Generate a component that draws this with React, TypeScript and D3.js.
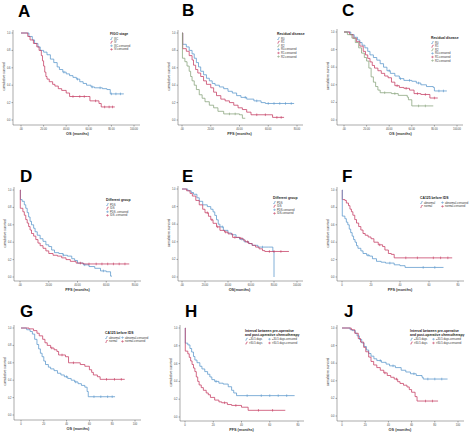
import React from 'react';
import * as d3 from 'd3';

type Pt = [number, number];

// ---- Panel A (OS by FIGO stage)
const aIIIC: Pt[] = [[0,1],[7,0.96],[10,0.92],[12,0.88],[15,0.84],[17,0.8],[20,0.78],[23,0.75],[26,0.7],[29,0.66],[32,0.61],[34,0.58],[37,0.55],[40,0.53],[43,0.51],[46,0.49],[49,0.47],[52,0.44],[55,0.42],[58,0.4],[62,0.38],[65,0.37],[72,0.36],[76,0.35],[79,0.3],[91,0.3]];
const aIV: Pt[] = [[0,1],[6,0.96],[8,0.92],[11,0.88],[14,0.84],[16,0.8],[18,0.74],[19,0.68],[20,0.62],[21,0.55],[22,0.5],[23,0.47],[25,0.44],[28,0.41],[30,0.39],[33,0.36],[36,0.34],[40,0.31],[43,0.27],[59,0.27],[61,0.22],[69,0.19],[71,0.15],[83,0.15]];
const aIIICc = [38, 50, 63, 70, 80, 84, 88];
const aIVc = [46, 52, 56, 66, 74, 78, 81];

// ---- Panel B (PFS by residual disease)
const bR0: Pt[] = [[0,1],[0.5,0.87],[3,0.84],[5,0.8],[7,0.76],[8.5,0.71],[10,0.66],[11.5,0.61],[13,0.56],[15,0.52],[17,0.48],[19,0.45],[21,0.42],[23,0.4],[26,0.38],[29,0.36],[32,0.33],[35,0.31],[38,0.28],[41,0.26],[45,0.24],[50,0.22],[55,0.2],[58,0.19],[78,0.19]];
const bR1: Pt[] = [[0,1],[0.5,0.82],[3,0.79],[5,0.74],[7,0.69],[8,0.63],[9.5,0.58],[11,0.54],[13,0.5],[15,0.45],[17,0.41],[20,0.37],[22,0.32],[24,0.28],[27,0.24],[30,0.22],[33,0.2],[36,0.17],[39,0.14],[42,0.12],[45,0.09],[48,0.06],[63,0.03],[71,0.03]];
const bR2: Pt[] = [[0,1],[0.3,0.71],[2,0.67],[3.5,0.62],[5,0.56],[6,0.5],[7,0.45],[8.5,0.4],[10,0.35],[12,0.29],[14,0.25],[16,0.21],[19,0.17],[22,0.14],[25,0.1],[29,0.07],[40,0.06],[42,0.02],[44,0.02]];
const bR0c = [44, 52, 60, 64, 68, 72, 76];
const bR1c = [52, 58, 66, 69];
const bR2c = [33, 37];

// ---- Panel C (OS by residual disease)
const cR0: Pt[] = [[0,1],[6,0.97],[9,0.94],[12,0.91],[14,0.88],[16,0.85],[18.5,0.82],[21,0.78],[23,0.74],[26,0.71],[29,0.68],[32,0.64],[35,0.6],[38,0.56],[41,0.53],[45,0.5],[49,0.47],[53,0.45],[60,0.44],[64,0.42],[68,0.4],[73,0.38],[79,0.37],[80,0.33],[91,0.33]];
const cR1: Pt[] = [[0,1],[5,0.97],[8,0.93],[11,0.89],[14,0.84],[17,0.78],[19,0.74],[21,0.7],[23,0.66],[25,0.62],[27,0.59],[30,0.56],[33,0.53],[36,0.5],[39,0.48],[42,0.43],[45,0.39],[49,0.37],[53,0.36],[58,0.34],[62,0.3],[68,0.29],[76,0.25],[83,0.25]];
const cR2: Pt[] = [[0,1],[3,0.97],[7,0.93],[10,0.88],[13,0.82],[15.5,0.76],[18,0.71],[20,0.67],[22,0.59],[24,0.49],[26,0.43],[28,0.38],[30,0.34],[32,0.31],[42,0.3],[48,0.28],[56,0.26],[57,0.23],[60,0.16],[79,0.16]];
const cR0c = [40, 50, 58, 66, 84, 88];
const cR1c = [47, 55, 65, 72, 80];
const cR2c = [36, 45, 66, 72];

// ---- Panel D (PFS by group)
const dPDS: Pt[] = [[0,1],[0.3,0.89],[1.5,0.87],[3,0.83],[4,0.79],[5,0.74],[6,0.69],[7,0.64],[8,0.6],[9.5,0.56],[10.5,0.52],[12,0.48],[14,0.44],[16,0.41],[18,0.37],[20,0.35],[22,0.31],[24,0.28],[27,0.27],[30,0.25],[33,0.24],[36,0.21],[38,0.19],[40,0.16],[44,0.14],[48,0.12],[52,0.1],[56,0.07],[60,0.06],[63,0.01],[64,0.01]];
const dIDS: Pt[] = [[0,1],[0.2,0.79],[2,0.75],[3,0.71],[4,0.66],[5,0.62],[6,0.58],[7,0.54],[8,0.5],[9.5,0.47],[11,0.43],[12.5,0.39],[14,0.36],[16,0.33],[18,0.3],[20,0.27],[23,0.25],[26,0.24],[29,0.22],[32,0.2],[35,0.18],[39,0.16],[44,0.15],[76,0.15]];
const dPDSc = [30, 45, 58];
const dIDSc = [42, 48, 53, 57, 61, 65, 69, 73];

// ---- Panel E (OS by group)
const ePDS: Pt[] = [[0,1],[5,0.98],[8,0.96],[10,0.94],[13,0.9],[15,0.86],[18,0.82],[22,0.8],[25,0.77],[27,0.74],[28.5,0.7],[30,0.65],[31.5,0.6],[33,0.57],[36,0.53],[40,0.5],[43,0.48],[47,0.45],[50,0.43],[54,0.4],[58,0.38],[61,0.36],[66,0.34],[75,0.34],[79,0.29],[80,0]];
const eIDS: Pt[] = [[0,1],[4,0.98],[7,0.95],[9,0.92],[12,0.87],[15,0.82],[18,0.77],[20,0.73],[23,0.69],[25,0.65],[27,0.61],[30,0.57],[33,0.53],[37,0.51],[40,0.49],[44,0.45],[50,0.44],[53,0.42],[55,0.4],[58,0.38],[61,0.36],[64,0.34],[67,0.32],[70,0.3],[72,0.29],[93,0.29]];
const ePDSc = [35, 52, 70];
const eIDSc = [22, 26, 31, 38, 46, 51, 57, 76, 80, 86];

// ---- Panel F (PFS by CA125)
const fNormal: Pt[] = [[0,1],[0.2,0.89],[2,0.88],[3,0.85],[4.5,0.82],[5.5,0.78],[6.5,0.75],[7.5,0.71],[8.8,0.66],[10,0.62],[11.5,0.58],[13,0.54],[14.5,0.5],[16,0.48],[18,0.46],[20,0.44],[22,0.4],[25,0.37],[28,0.35],[29.6,0.31],[32,0.27],[34,0.26],[36,0.22],[76,0.22]];
const fAbnormal: Pt[] = [[0,1],[0.2,0.7],[2,0.67],[3,0.63],[4,0.6],[5,0.55],[6,0.51],[7,0.47],[8,0.43],[9,0.4],[10,0.36],[11,0.33],[13,0.3],[14.5,0.27],[17,0.25],[19,0.24],[21,0.21],[23.8,0.18],[27,0.17],[30,0.16],[36,0.14],[40,0.13],[43.5,0.11],[70,0.11]];
const fNormalc = [26, 44, 52, 63, 68, 73];
const fAbnormalc = [18, 33, 56, 64];

// ---- Panel G (OS by CA125)
const gAbnormal: Pt[] = [[0,1],[5,0.98],[8,0.96],[10,0.93],[12,0.87],[14,0.81],[15.5,0.76],[17,0.71],[18.5,0.67],[20,0.62],[21.5,0.58],[24,0.55],[26,0.53],[29,0.51],[32,0.48],[35,0.46],[38,0.44],[41,0.42],[44,0.4],[47,0.38],[50,0.36],[53,0.34],[56,0.32],[58,0.27],[59,0.21],[82.5,0.21]];
const gNormal: Pt[] = [[0,1],[7,0.99],[11,0.97],[14,0.94],[16,0.91],[19,0.87],[21,0.83],[23,0.8],[26,0.77],[29,0.75],[31.5,0.73],[33,0.69],[39,0.67],[41.7,0.6],[52,0.58],[56,0.56],[60,0.52],[62,0.49],[63.5,0.46],[67,0.44],[69.4,0.41],[91,0.41]];
const gAbnormalc = [40, 48, 64, 70, 76, 80];
const gNormalc = [27, 36, 46, 75, 82, 88];

// ---- Panel H (PFS by interval)
const hShort: Pt[] = [[0,1],[0.2,0.83],[2,0.81],[3.5,0.77],[4.7,0.73],[6,0.68],[7,0.64],[8.5,0.61],[10.5,0.57],[12,0.54],[14,0.51],[16,0.48],[17.6,0.45],[19,0.42],[21,0.4],[24,0.38],[27,0.37],[30.6,0.34],[33,0.3],[34.5,0.27],[36.5,0.24],[77.6,0.24]];
const hLong: Pt[] = [[0,1],[0.2,0.74],[2,0.71],[3,0.67],[4,0.63],[5,0.59],[6,0.55],[7,0.51],[8,0.45],[9,0.4],[10,0.36],[11.5,0.33],[13,0.3],[15,0.27],[16.5,0.25],[18,0.22],[21,0.19],[24,0.17],[26,0.16],[30,0.14],[33,0.13],[40,0.11],[44.7,0.075],[71,0.075]];
const hShortc = [22, 44, 54, 60, 66, 72];
const hLongc = [28, 36, 52, 62];

// ---- Panel J (OS by interval)
const jShort: Pt[] = [[0,1],[7,0.98],[9,0.97],[11.5,0.94],[13,0.91],[15,0.87],[17,0.83],[19,0.79],[21,0.75],[23,0.71],[25,0.68],[27.5,0.65],[30,0.63],[34,0.61],[38,0.59],[41,0.57],[46,0.55],[51,0.52],[55,0.5],[59,0.48],[64,0.46],[69,0.44],[70,0.42],[91,0.42]];
const jLong: Pt[] = [[0,1],[8,0.98],[11,0.94],[14,0.88],[16,0.84],[18.7,0.78],[20.5,0.73],[23,0.67],[25,0.62],[27.3,0.58],[30,0.55],[33,0.52],[36,0.49],[39,0.46],[42,0.44],[45,0.42],[48,0.39],[50,0.37],[53,0.35],[56,0.33],[58,0.3],[60,0.27],[63,0.22],[64.7,0.17],[82.8,0.17]];
const jShortc = [33, 44, 62, 74, 80, 86];
const jLongc = [37, 47, 72, 78];

const yTicks = [0, 0.2, 0.4, 0.6, 0.8, 1.0];
const xTicks100 = [0, 20, 40, 60, 80, 100];
const xTicks80 = [0, 20, 40, 60, 80];

const BLUE = '#5896cb';
const RED = '#c43a60';
const GREEN = '#86a27a';

type Series = { data: Pt[]; cens: number[]; color: string };
type Panel = {
  letter: string; lx: number; ly: number;
  axisX: number; yTop: number; yBot: number; axisY: number;
  x0: number; x1: number; xMax: number; xTicks: number[]; decimals: boolean;
  xLabel: string; xLabelY: number;
  series: Series[];
  legTitle: string[]; legX: number; legY: number;
  legItems: string[]; legCols: number; legColW: number; legColors: string[];
};

const panels: Panel[] = [
  { letter: 'A', lx: 18, ly: 17, axisX: 13, yTop: 33, yBot: 120, axisY: 125, x0: 21, x1: 134, xMax: 100, xTicks: xTicks100, decimals: true, xLabel: 'OS  (months)', xLabelY: 135,
    series: [{ data: aIIIC, cens: aIIICc, color: BLUE }, { data: aIV, cens: aIVc, color: RED }],
    legTitle: ['FIGO stage'], legX: 110, legY: 35, legItems: ['IIIC', 'IV', 'IIIC-censored', 'IV-censored'], legCols: 1, legColW: 0, legColors: [BLUE, RED, BLUE, RED] },
  { letter: 'B', lx: 182, ly: 16, axisX: 178, yTop: 33, yBot: 120, axisY: 125, x0: 182, x1: 297, xMax: 80, xTicks: xTicks80, decimals: true, xLabel: 'PFS (months)', xLabelY: 135,
    series: [{ data: bR0, cens: bR0c, color: BLUE }, { data: bR1, cens: bR1c, color: RED }, { data: bR2, cens: bR2c, color: GREEN }],
    legTitle: ['Residual disease'], legX: 277, legY: 35, legItems: ['R0', 'R1', 'R2', 'R0-censored', 'R1-censored', 'R2-censored'], legCols: 1, legColW: 0, legColors: [BLUE, RED, GREEN, BLUE, RED, GREEN] },
  { letter: 'C', lx: 342, ly: 16, axisX: 337, yTop: 32, yBot: 120, axisY: 125, x0: 344, x1: 457, xMax: 100, xTicks: xTicks100, decimals: true, xLabel: 'OS  (months)', xLabelY: 135,
    series: [{ data: cR0, cens: cR0c, color: BLUE }, { data: cR1, cens: cR1c, color: RED }, { data: cR2, cens: cR2c, color: GREEN }],
    legTitle: ['Residual disease'], legX: 431, legY: 39, legItems: ['R0', 'R1', 'R2', 'R0-censored', 'R1-censored', 'R2-censored'], legCols: 1, legColW: 0, legColors: [BLUE, RED, GREEN, BLUE, RED, GREEN] },
  { letter: 'D', lx: 20, ly: 182, axisX: 14, yTop: 190, yBot: 277, axisY: 281, x0: 20, x1: 135, xMax: 80, xTicks: xTicks80, decimals: true, xLabel: 'PFS  (months)', xLabelY: 291,
    series: [{ data: dPDS, cens: dPDSc, color: BLUE }, { data: dIDS, cens: dIDSc, color: RED }],
    legTitle: ['Different group'], legX: 106, legY: 201, legItems: ['PDS', 'IDS', 'PDS -censored', 'IDS -censored'], legCols: 1, legColW: 0, legColors: [BLUE, RED, BLUE, RED] },
  { letter: 'E', lx: 182, ly: 182, axisX: 178, yTop: 189, yBot: 277, axisY: 281, x0: 182, x1: 297, xMax: 100, xTicks: xTicks100, decimals: true, xLabel: 'OS(months)', xLabelY: 291,
    series: [{ data: ePDS, cens: ePDSc, color: BLUE }, { data: eIDS, cens: eIDSc, color: RED }],
    legTitle: ['Different group'], legX: 273, legY: 199, legItems: ['PDS', 'IDS', 'PDS-censored', 'IDS-censored'], legCols: 1, legColW: 0, legColors: [BLUE, RED, BLUE, RED] },
  { letter: 'F', lx: 342, ly: 182, axisX: 337, yTop: 190, yBot: 277, axisY: 281, x0: 342, x1: 458, xMax: 80, xTicks: xTicks80, decimals: false, xLabel: 'PFS  (months)', xLabelY: 291,
    series: [{ data: fNormal, cens: fNormalc, color: RED }, { data: fAbnormal, cens: fAbnormalc, color: BLUE }],
    legTitle: ['CA125 before IDS'], legX: 420, legY: 199, legItems: ['abnormal', 'abnormal-censored', 'normal', 'normal-censored'], legCols: 2, legColW: 21, legColors: [BLUE, BLUE, RED, RED] },
  { letter: 'G', lx: 20, ly: 317, axisX: 14, yTop: 328, yBot: 415, axisY: 420, x0: 21, x1: 135, xMax: 100, xTicks: xTicks100, decimals: false, xLabel: 'OS  (months)', xLabelY: 430,
    series: [{ data: gAbnormal, cens: gAbnormalc, color: BLUE }, { data: gNormal, cens: gNormalc, color: RED }],
    legTitle: ['CA125 before IDS'], legX: 105, legY: 334, legItems: ['abnormal', 'abnormal-censored', 'normal', 'normal-censored'], legCols: 2, legColW: 16, legColors: [BLUE, BLUE, RED, RED] },
  { letter: 'H', lx: 185, ly: 317, axisX: 180, yTop: 328, yBot: 417, axisY: 421, x0: 185, x1: 298, xMax: 80, xTicks: xTicks80, decimals: false, xLabel: 'PFS  (months)', xLabelY: 431,
    series: [{ data: hShort, cens: hShortc, color: BLUE }, { data: hLong, cens: hLongc, color: RED }],
    legTitle: ['Interval between pre-operative', 'and post-operative chemotherapy'], legX: 245, legY: 332, legItems: ['≤30.5 days', '≤30.5 days-censored', '>30.5 days', '>30.5 days-censored'], legCols: 2, legColW: 23, legColors: [BLUE, BLUE, RED, RED] },
  { letter: 'J', lx: 344, ly: 317, axisX: 337, yTop: 328, yBot: 416, axisY: 421, x0: 342, x1: 458, xMax: 100, xTicks: xTicks100, decimals: false, xLabel: 'OS  (months)', xLabelY: 431,
    series: [{ data: jShort, cens: jShortc, color: BLUE }, { data: jLong, cens: jLongc, color: RED }],
    legTitle: ['Interval between pre-operative', 'and post-operative chemotherapy'], legX: 410, legY: 332, legItems: ['≤30.5 days', '≤30.5 days-censored', '>30.5 days', '>30.5 days-censored'], legCols: 2, legColW: 22, legColors: [BLUE, BLUE, RED, RED] },
];

const FONT = '"Liberation Sans", Arial, sans-serif';

function survAt(data: Pt[], t: number) {
  let s = 1;
  for (const [tt, ss] of data) { if (tt <= t) s = ss; }
  return s;
}

function PanelView({ p }: { p: Panel }) {
  const x = d3.scaleLinear().domain([0, p.xMax]).range([p.x0, p.x1]);
  const y = d3.scaleLinear().domain([0, 1]).range([p.yBot, p.yTop]);
  const line = d3.line<Pt>().x(d => x(d[0])).y(d => y(d[1])).curve(d3.curveStepAfter);
  const fmt = (v: number) => p.decimals ? (v === 0 ? '.00' : v.toFixed(2)) : String(v);
  const xEnd = x(p.xMax) + 6;
  const midY = (p.yTop + p.yBot) / 2;
  return (
    <g>
      <text x={p.lx} y={p.ly} fontSize={17} fontWeight="bold" fontFamily={FONT} fill="#000">{p.letter}</text>
      <line x1={p.axisX} x2={p.axisX} y1={p.yTop - 3} y2={p.axisY} stroke="#555" strokeWidth={0.5} />
      <line x1={p.axisX} x2={xEnd} y1={p.axisY} y2={p.axisY} stroke="#555" strokeWidth={0.5} />
      {yTicks.map(t => (
        <g key={'y' + t}>
          <line x1={p.axisX - 1.5} x2={p.axisX} y1={y(t)} y2={y(t)} stroke="#555" strokeWidth={0.5} />
          <text x={p.axisX - 2.5} y={y(t) + 0.9} fontSize={2.6} textAnchor="end" fontFamily={FONT} fill="#444">{t.toFixed(1)}</text>
        </g>
      ))}
      {p.xTicks.map(t => (
        <g key={'x' + t}>
          <line x1={x(t)} x2={x(t)} y1={p.axisY} y2={p.axisY + 1.5} stroke="#555" strokeWidth={0.5} />
          <text x={x(t)} y={p.axisY + 4.5} fontSize={2.6} textAnchor="middle" fontFamily={FONT} fill="#444">{fmt(t)}</text>
        </g>
      ))}
      <text x={(p.x0 + p.x1) / 2} y={p.xLabelY} fontSize={3.8} fontWeight="bold" textAnchor="middle" fontFamily={FONT} fill="#333">{p.xLabel}</text>
      <text transform={`translate(${p.axisX - 8.5},${midY}) rotate(-90)`} fontSize={3.4} textAnchor="middle" fontFamily={FONT} fill="#333">cumulative survival</text>
      {p.series.map((s, i) => (
        <g key={'s' + i}>
          <path d={line(s.data) || ''} fill="none" stroke={s.color} strokeWidth={0.75} />
          {s.cens.map((c, j) => (
            <line key={j} x1={x(c)} x2={x(c)} y1={y(survAt(s.data, c)) - 1.3} y2={y(survAt(s.data, c)) + 1.3} stroke={s.color} strokeWidth={0.6} />
          ))}
        </g>
      ))}
      {p.legTitle.map((t, i) => (
        <text key={'lt' + i} x={p.legX} y={p.legY + i * 3.6} fontSize={3.4} fontWeight="bold" fontFamily={FONT} fill="#222">{t}</text>
      ))}
      {p.legItems.map((it, i) => {
        const col = p.legCols === 1 ? 0 : i % 2;
        const row = p.legCols === 1 ? i : Math.floor(i / 2);
        const baseY = p.legY + (p.legTitle.length - 1) * 3.6 + 4.5 + row * (p.legCols === 1 ? 3.6 : 3.8);
        const bx = p.legX + col * p.legColW;
        const cens = it.includes('censored');
        return (
          <g key={'li' + i}>
            {cens ? (
              <g>
                <line x1={bx} x2={bx + 3} y1={baseY - 0.9} y2={baseY - 0.9} stroke={p.legColors[i]} strokeWidth={0.5} />
                <line x1={bx + 1.5} x2={bx + 1.5} y1={baseY - 2.1} y2={baseY + 0.3} stroke={p.legColors[i]} strokeWidth={0.5} />
              </g>
            ) : (
              <path d={`M${bx},${baseY} L${bx + 1.5},${baseY} L${bx + 1.5},${baseY - 1.8} L${bx + 3},${baseY - 1.8}`} fill="none" stroke={p.legColors[i]} strokeWidth={0.5} />
            )}
            <text x={bx + 4} y={baseY} fontSize={2.7} fontFamily={FONT} fill="#333">{it}</text>
          </g>
        );
      })}
    </g>
  );
}

export default function App() {
  return (
    <svg width={474} height={433} viewBox="0 0 474 433" style={{ position: 'absolute', left: 0, top: 0, background: '#fff' }}>
      <rect x={0} y={0} width={474} height={433} fill="#fff" />
      {panels.map(p => <PanelView key={p.letter} p={p} />)}
    </svg>
  );
}
